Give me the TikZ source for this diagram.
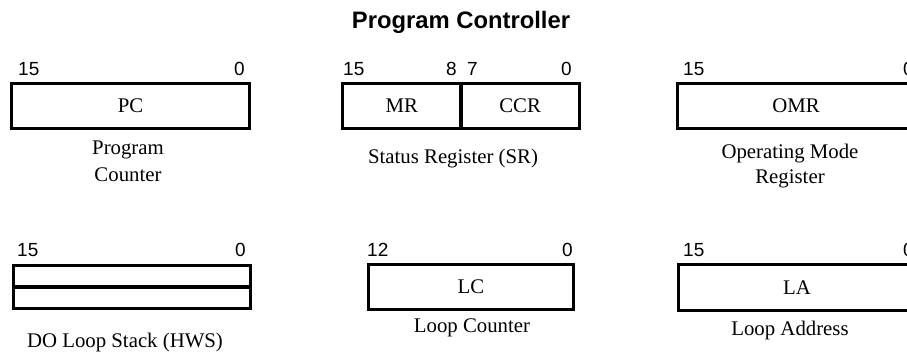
\documentclass[tikz,border=0pt]{standalone}
\usepackage{fontspec}
\setmainfont{Liberation Serif}
\newfontfamily\sansf{Liberation Sans}
\begin{document}
\begin{tikzpicture}[x=1pt,y=-1pt,
  regbox/.style={draw, line width=3.4pt, inner sep=0pt,
    font=\fontsize{20.8}{24}\selectfont},
  bitnum/.style={inner sep=0pt, font=\sansf\fontsize{19}{22}\selectfont},
  lbl/.style={inner sep=0pt, anchor=base, font=\fontsize{20.8}{24}\selectfont},
  ttl/.style={inner sep=0pt, anchor=base, font=\sansf\bfseries\fontsize{23.8}{27}\selectfont}]
\useasboundingbox (0,0) rectangle (907,354);
\clip (0,0) rectangle (907,354);
\fill[white] (0,0) rectangle (907,354);
% title
\node[ttl] (title) at (461,28) {Program Controller};
% ---- top row ----
% PC
\node[regbox, minimum width=237.6pt, minimum height=44.6pt] (pc) at (130.5,106) {PC};
\node[bitnum, anchor=base west] (pc15) at (18,75) {15};
\node[bitnum, anchor=base east] (pc0) at (245,75) {0};
\node[lbl] (pcl1) at (128,154) {Program};
\node[lbl] (pcl2) at (128,181) {Counter};
% SR
\node[regbox, minimum width=118.3pt, minimum height=44.6pt] (mr) at (401.9,106) {MR};
\node[regbox, minimum width=118.3pt, minimum height=44.6pt] (ccr) at (520.1,106) {CCR};
\node[bitnum, anchor=base west] (sr15) at (343,75) {15};
\node[bitnum, anchor=base east] (sr8) at (457,75) {8};
\node[bitnum, anchor=base west] (sr7) at (467,75) {7};
\node[bitnum, anchor=base east] (sr0) at (572,75) {0};
\node[lbl] (srl) at (453,163) {Status Register (SR)};
% OMR
\node[regbox, minimum width=236.6pt, minimum height=44.6pt] (omr) at (796,106) {OMR};
\node[bitnum, anchor=base west] (omr15) at (683,75) {15};
\node[bitnum, anchor=base east] (omr0) at (914,75) {0};
\node[lbl] (omrl1) at (790,158) {Operating Mode};
\node[lbl] (omrl2) at (790,183) {Register};
% ---- bottom row ----
% HWS
\node[regbox, minimum width=236.6pt, minimum height=21.3pt] (hws1) at (132,276.4) {};
\node[regbox, minimum width=236.6pt, minimum height=21.3pt] (hws2) at (132,297.7) {};
\node[bitnum, anchor=base west] (hws15) at (17,256) {15};
\node[bitnum, anchor=base east] (hws0) at (246,256) {0};
\node[lbl] (hwsl) at (125,347) {DO Loop Stack (HWS)};
% LC
\node[regbox, minimum width=204.6pt, minimum height=44.6pt] (lc) at (471,287) {LC};
\node[bitnum, anchor=base west] (lc12) at (367,256) {12};
\node[bitnum, anchor=base east] (lc0) at (573,256) {0};
\node[lbl] (lcl) at (472,332) {Loop Counter};
% LA
\node[regbox, minimum width=236.6pt, minimum height=45.6pt] (la) at (797,287.5) {LA};
\node[bitnum, anchor=base west] (la15) at (683,256) {15};
\node[bitnum, anchor=base east] (la0) at (914,256) {0};
\node[lbl] (lal) at (790,335) {Loop Address};
\end{tikzpicture}
\end{document}
